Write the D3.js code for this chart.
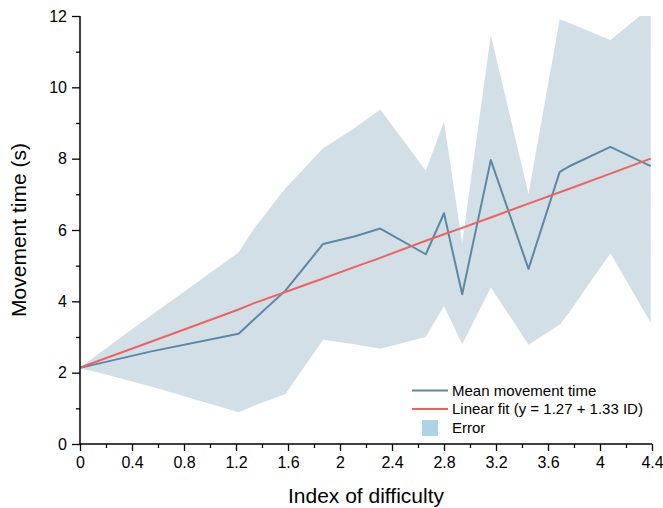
<!DOCTYPE html>
<html>
<head>
<meta charset="utf-8">
<script src="https://cdn.jsdelivr.net/npm/d3@7"></script>
<style>
  html, body { margin: 0; padding: 0; background: #fff; }
  svg { display: block; font-family: "Liberation Sans", Arial, sans-serif; }
</style>
</head>
<body>
<svg id="chart" width="663" height="508"></svg>
<script>
// Data
const ids        = [0, 0.15, 0.54, 1.22, 1.34, 1.58, 1.87, 2.11, 2.31, 2.66, 2.80, 2.94, 3.16, 3.45, 3.69, 3.76, 4.08, 4.39];
const meanTime   = [2.14, 2.26, 2.59, 3.09, 3.50, 4.30, 5.61, 5.82, 6.04, 5.32, 6.47, 4.20, 7.96, 4.91, 7.63, 7.78, 8.33, 7.79];
const fitTime    = [2.14, 2.34, 2.86, 3.77, 3.95, 4.26, 4.64, 4.96, 5.22, 5.70, 5.88, 6.06, 6.35, 6.74, 7.06, 7.15, 7.58, 8.00];
const errUpper   = [2.14, 2.55, 3.59, 5.37, 6.05, 7.17, 8.29, 8.85, 9.38, 7.66, 9.04, 5.63, 11.47, 7.01, 11.91, 11.81, 11.33, 12.25];
const errLower   = [2.12, 2.00, 1.62, 0.89, 1.07, 1.40, 2.92, 2.80, 2.67, 3.00, 3.87, 2.80, 4.39, 2.78, 3.34, 3.67, 5.35, 3.40];
const xTicks     = [0, 0.4, 0.8, 1.2, 1.6, 2, 2.4, 2.8, 3.2, 3.6, 4, 4.4];
const yTicks     = [0, 2, 4, 6, 8, 10, 12];
const legendLabels = ["Mean movement time", "Linear fit (y = 1.27 + 1.33 ID)", "Error"];

const W = 663, H = 508;
const margin = { left: 80, right: 11, top: 16, bottom: 64 };
const svg = d3.select("#chart");

const x = d3.scaleLinear().domain([0, 4.4]).range([margin.left, W - margin.right]);
const y = d3.scaleLinear().domain([0, 12]).range([H - margin.bottom, margin.top]);

const rows = ids.map((d, i) => ({ x: d, m: meanTime[i], f: fitTime[i], u: errUpper[i], l: errLower[i] }));

svg.append("defs").append("clipPath").attr("id", "plotclip")
  .append("rect")
  .attr("x", x(0)).attr("y", y(12))
  .attr("width", x(4.4) - x(0)).attr("height", y(0) - y(12));

const plot = svg.append("g").attr("clip-path", "url(#plotclip)");

plot.append("path")
  .datum(rows)
  .attr("fill", "#d2dfe7")
  .attr("d", d3.area().x(d => x(d.x)).y0(d => y(d.l)).y1(d => y(d.u)));

plot.append("path")
  .datum(rows)
  .attr("fill", "none")
  .attr("stroke", "#5a88a6")
  .attr("stroke-width", 2)
  .attr("stroke-linejoin", "round")
  .attr("d", d3.line().x(d => x(d.x)).y(d => y(d.m)));

plot.append("path")
  .datum(rows)
  .attr("fill", "none")
  .attr("stroke", "#f06262")
  .attr("stroke-width", 2)
  .attr("d", d3.line().x(d => x(d.x)).y(d => y(d.f)));

// Axes
const xAxis = svg.append("g")
  .attr("transform", `translate(0,${y(0)})`)
  .call(d3.axisBottom(x).tickValues(xTicks).tickFormat(d3.format("~g")).tickSize(7).tickPadding(6));
const xMinor = svg.append("g")
  .attr("transform", `translate(0,${y(0)})`)
  .call(d3.axisBottom(x).tickValues(xTicks.slice(0, -1).map(t => t + 0.2)).tickFormat("").tickSize(4));
const yAxis = svg.append("g")
  .attr("transform", `translate(${x(0)},0)`)
  .call(d3.axisLeft(y).tickValues(yTicks).tickSize(8).tickPadding(5));
const yMinor = svg.append("g")
  .attr("transform", `translate(${x(0)},0)`)
  .call(d3.axisLeft(y).tickValues(yTicks.slice(0, -1).map(t => t + 1)).tickFormat("").tickSize(4));

[xAxis, xMinor, yAxis, yMinor].forEach(g => {
  g.select(".domain").attr("stroke", "#000").attr("stroke-width", 1.5);
  g.selectAll(".tick line").attr("stroke", "#000").attr("stroke-width", 1.3);
  g.selectAll(".tick text").attr("fill", "#000").style("font-size", "16px")
    .style("font-family", "'Liberation Sans', Arial, sans-serif");
});
xMinor.select(".domain").remove();
yMinor.select(".domain").remove();
// extend x domain outer ticks off
xAxis.select(".domain").attr("d", `M${x(0)},0H${x(4.4)}`);
yAxis.select(".domain").attr("d", `M0,${y(0)}V${y(12)}`);

// Axis titles
svg.append("text")
  .attr("x", (x(0) + x(4.4)) / 2).attr("y", 503)
  .attr("text-anchor", "middle")
  .style("font-size", "21px")
  .text("Index of difficulty");

svg.append("text")
  .attr("transform", `translate(26,${(y(0) + y(12)) / 2}) rotate(-90)`)
  .attr("text-anchor", "middle")
  .style("font-size", "21px")
  .text("Movement time (s)");

// Legend
const leg = svg.append("g");
const legColors = ["#5a88a6", "#f06262"];
[0, 1].forEach(i => {
  const yy = 390.5 + i * 18.6;
  leg.append("line").attr("x1", 412).attr("x2", 448).attr("y1", yy).attr("y2", yy)
    .attr("stroke", legColors[i]).attr("stroke-width", 2);
  leg.append("text").attr("x", 452).attr("y", yy).attr("dy", "0.35em")
    .style("font-size", "15px").text(legendLabels[i]);
});
leg.append("rect").attr("x", 422).attr("y", 420).attr("width", 16).attr("height", 16).attr("fill", "#aed3e6");
leg.append("text").attr("x", 452).attr("y", 428).attr("dy", "0.35em")
  .style("font-size", "15px").text(legendLabels[2]);
</script>
</body>
</html>
